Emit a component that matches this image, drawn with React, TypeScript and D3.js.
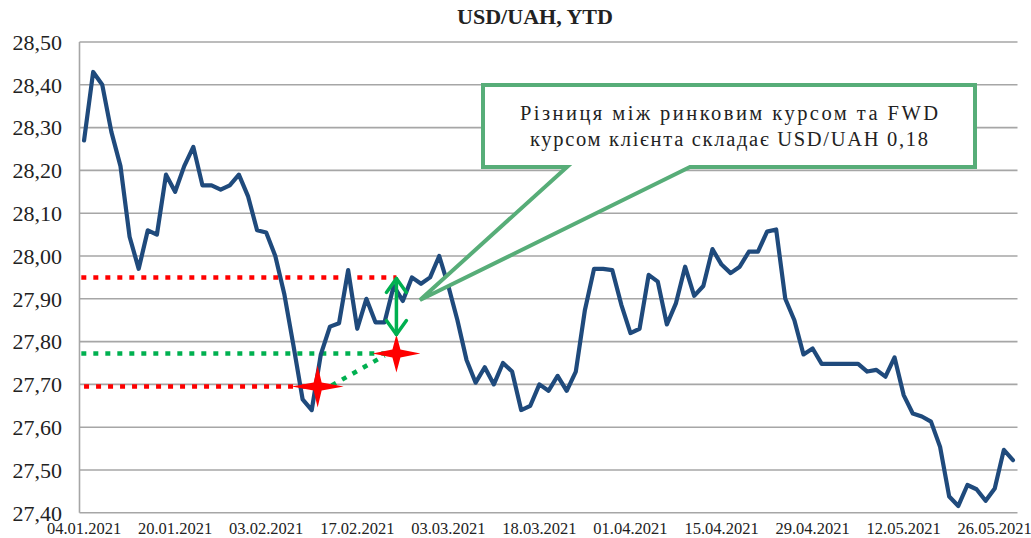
import React from "react";
import * as d3 from "d3";

// ---- data ----
const rates: number[] = [
  28.27, 28.43, 28.4, 28.29, 28.21, 28.045, 27.97, 28.06, 28.05, 28.19,
  28.15, 28.21, 28.255, 28.165, 28.165, 28.155, 28.165, 28.19, 28.14, 28.06,
  28.055, 28.0, 27.91, 27.79, 27.665, 27.64, 27.77, 27.835, 27.843, 27.967,
  27.83, 27.9, 27.845, 27.845, 27.93, 27.895, 27.95, 27.935, 27.95, 28.0,
  27.93, 27.85, 27.757, 27.704, 27.74, 27.7, 27.75, 27.73, 27.64, 27.65,
  27.7, 27.685, 27.72, 27.685, 27.73, 27.874, 27.97, 27.97, 27.967, 27.886,
  27.82, 27.83, 27.956, 27.94, 27.84, 27.89, 27.975, 27.907, 27.93, 28.016,
  27.98, 27.96, 27.975, 28.01, 28.01, 28.057, 28.062, 27.9, 27.85, 27.77,
  27.784, 27.748, 27.748, 27.748, 27.748, 27.748, 27.73, 27.734, 27.718, 27.763,
  27.675, 27.632, 27.625, 27.613, 27.554, 27.438, 27.416, 27.465, 27.455, 27.428,
  27.457, 27.547, 27.523,
];

const tickIndex: number[] = [0, 10, 20, 30, 40, 50, 60, 70, 80, 90, 100];
const tickLabels: string[] = [
  "04.01.2021", "20.01.2021", "03.02.2021", "17.02.2021", "03.03.2021",
  "18.03.2021", "01.04.2021", "15.04.2021", "29.04.2021", "12.05.2021", "26.05.2021",
];
const yTicks: number[] = [27.4, 27.5, 27.6, 27.7, 27.8, 27.9, 28.0, 28.1, 28.2, 28.3, 28.4, 28.5];

// annotation values
const marketRate = 27.95; // red upper level
const fwdRate = 27.772; // green level
const dealRate = 27.695; // red lower level
const dealIndex = 25.65; // star 1 position (category index)
const fwdIndex = 34.3; // star 2 / arrow position

const title = "USD/UAH, YTD";
const calloutLines: string[] = [
  "Різниця між ринковим курсом та FWD",
  "курсом клієнта складає USD/UAH 0,18",
];

const W = 1031;
const H = 538;
const plotLeft = 79.5;
const plotRight = 1017.5;
const plotTop = 42;
const plotBottom = 512.8;

const serif = "'Liberation Serif', 'Times New Roman', serif";

function starPath(cx: number, cy: number, rx: number, ry: number, w: number) {
  const pts: [number, number][] = [
    [cx, cy - ry], [cx + w, cy - w], [cx + rx, cy], [cx + w, cy + w],
    [cx, cy + ry], [cx - w, cy + w], [cx - rx, cy], [cx - w, cy - w],
  ];
  return (d3.line()(pts) || "") + "Z";
}

export default function App() {
  const x = d3.scaleLinear().domain([-0.5, rates.length - 0.5]).range([plotLeft, plotRight]);
  const y = d3.scaleLinear().domain([27.4, 28.5]).range([plotBottom, plotTop]);

  const linePath =
    d3
      .line<number>()
      .x((_, i) => x(i))
      .y((d) => y(d))(rates) || "";

  const s1x = x(dealIndex);
  const s1y = y(dealRate);
  const s2x = x(fwdIndex);
  const s2y = y(fwdRate);
  const green = "#00B050";
  const red = "#FF0000";

  const arrowTop = y(marketRate);
  const arrowBottom = s2y - 18;

  // callout geometry
  const bx0 = 483, bx1 = 975, by0 = 85, by1 = 167;
  const tipX = 420, tipY = 300;
  const calloutPts: [number, number][] = [
    [bx0, by0], [bx1, by0], [bx1, by1], [690, by1], [tipX, tipY], [567, by1], [bx0, by1],
  ];
  const calloutPath = (d3.line()(calloutPts) || "") + "Z";

  return (
    <div style={{ position: "absolute", left: 0, top: 0 }}>
      <svg width={W} height={H} style={{ display: "block", background: "#fff" }}>
        {/* title */}
        <text x={535} y={24} textAnchor="middle" fontFamily={serif} fontWeight="bold" fontSize={20} fill="#222"
          textLength={156} lengthAdjust="spacingAndGlyphs">
          {title}
        </text>

        {/* gridlines */}
        {yTicks.map((t) => (
          <line key={t} x1={plotLeft} x2={plotRight} y1={y(t)} y2={y(t)} stroke="#A6A6A6" strokeWidth={1.6} />
        ))}
        <line x1={plotLeft} x2={plotLeft} y1={plotTop} y2={plotBottom} stroke="#A6A6A6" strokeWidth={1.6} />

        {/* y labels */}
        {yTicks.map((t) => (
          <text key={"l" + t} x={62} y={y(t)} dy="0.35em" textAnchor="end" fontFamily={serif} fontSize={22} fill="#222">
            {d3.format(".2f")(t).replace(".", ",")}
          </text>
        ))}

        {/* x labels */}
        {tickIndex.map((ti, k) => (
          <text key={"x" + ti} x={x(ti)} y={533.5} textAnchor="middle" fontFamily={serif} fontSize={16.5} fill="#222">
            {tickLabels[k]}
          </text>
        ))}

        {/* dotted levels */}
        <line x1={x(-0.3)} x2={s2x} y1={y(marketRate)} y2={y(marketRate)} stroke={red} strokeWidth={4.5} strokeDasharray="5 7" />
        <line x1={x(-0.3)} x2={s2x - 8} y1={y(fwdRate)} y2={y(fwdRate)} stroke={green} strokeWidth={4.5} strokeDasharray="5 7" />
        <line x1={x(0)} x2={s1x} y1={y(dealRate)} y2={y(dealRate)} stroke={red} strokeWidth={4.5} strokeDasharray="5 7" />

        {/* main line */}
        <path d={linePath} fill="none" stroke="#1F4A7C" strokeWidth={4.2} strokeLinejoin="round" strokeLinecap="round" />

        {/* green diagonal */}
        <line x1={s1x + 14} y1={s1y - 1} x2={s2x - 12} y2={s2y + 2} stroke={green} strokeWidth={4.5} strokeDasharray="5 7" />

        {/* stars */}
        <path d={starPath(s1x, s1y, 26, 21, 4)} fill={red} />
        <path d={starPath(s2x, s2y, 24, 19, 4)} fill={red} />

        {/* double arrow */}
        <g stroke={green} strokeWidth={3.5} fill="none" strokeLinecap="round" strokeLinejoin="round">
          <line x1={s2x} x2={s2x} y1={arrowTop + 1} y2={arrowBottom - 1} />
          <polyline points={`${s2x - 10},${arrowTop + 15} ${s2x},${arrowTop + 1} ${s2x + 10},${arrowTop + 15}`} />
          <polyline points={`${s2x - 10},${arrowBottom - 15} ${s2x},${arrowBottom - 1} ${s2x + 10},${arrowBottom - 15}`} />
        </g>

        {/* callout */}
        <path d={calloutPath} fill="#fff" stroke="#57AD78" strokeWidth={4} strokeLinejoin="miter" />
        {calloutLines.map((ln, k) => (
          <text
            key={k}
            x={(bx0 + bx1) / 2}
            y={120 + k * 26}
            textAnchor="middle"
            fontFamily={serif}
            fontSize={20.5}
            fill="#222"
            textLength={k === 0 ? 418 : 398}
            lengthAdjust="spacing"
          >
            {ln}
          </text>
        ))}
      </svg>
    </div>
  );
}
